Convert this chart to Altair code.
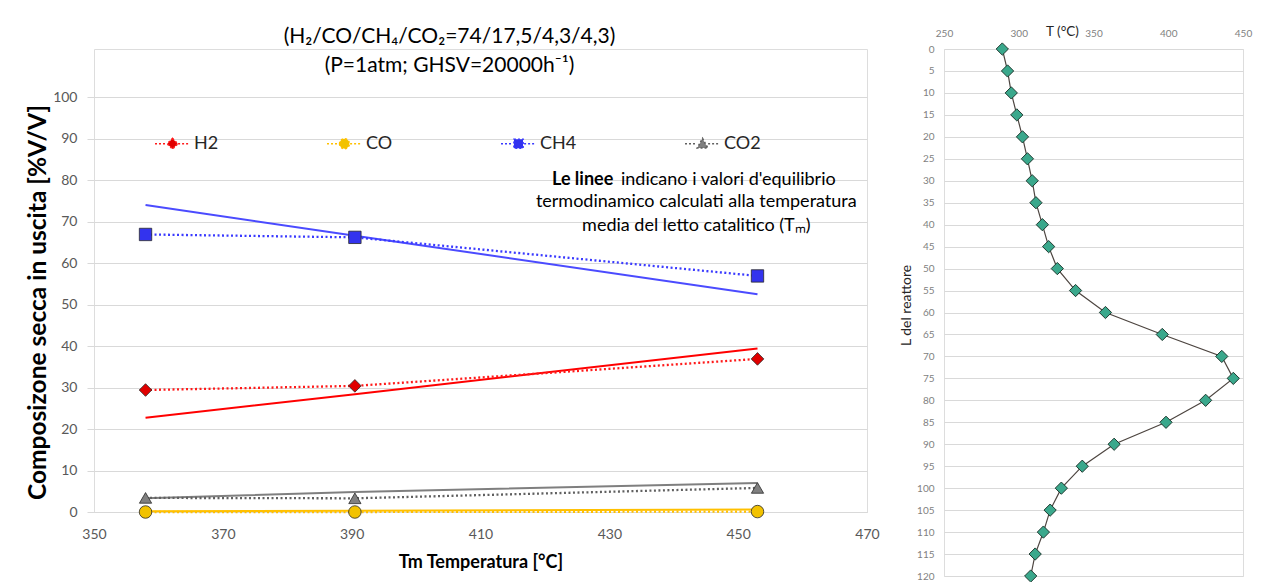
import altair as alt
import pandas as pd

# ---------------- data: left panel ----------------
SPECIES = ["H2", "CO", "CH4", "CO2"]
T_M = [358.0, 390.5, 453.0]

H2_EXP = [29.4, 30.4, 36.9]
CO_EXP = [0.0, 0.0, 0.1]
CH4_EXP = [66.9, 66.2, 56.9]
CO2_EXP = [3.4, 3.3, 5.8]

H2_EQ = [22.7, 28.4, 39.4]
CO_EQ = [0.2, 0.3, 0.6]
CH4_EQ = [74.0, 66.6, 52.5]
CO2_EQ = [3.3, 4.8, 7.0]

X_TICKS = [350, 370, 390, 410, 430, 450, 470]
Y_TICKS = [0, 10, 20, 30, 40, 50, 60, 70, 80, 90, 100]
# the plot area reaches above the 100 line, where the title sits (as in the original)
Y_DOMAIN = [0, 111.6]

NOTE_T = [421.1, 443.5, 443.5]
NOTE_V = [80.0, 74.7, 68.9]
NOTE_TXT = ["Le linee", "termodinamico  calculati alla temperatura", "media del letto catalitico (Tₘ)"]
NOTE_REST = "indicano i valori d'equilibrio"

# ---------------- data: right panel ----------------
L_POS = [0, 5, 10, 15, 20, 25, 30, 35, 40, 45, 50, 55, 60, 65, 70, 75, 80, 85, 90, 95, 100, 105, 110, 115, 120]
T_PROFILE = [289.0, 292.5, 295.0, 298.7, 302.5, 305.8, 309.0, 311.5, 315.8, 320.0, 325.8, 338.0, 358.0,
             396.0, 435.8, 443.5, 425.0, 398.5, 363.8, 342.5, 328.5, 321.0, 316.5, 311.0, 308.0]
T_TICKS = [250, 300, 350, 400, 450]
L_TICKS = list(range(0, 121, 5))

# ---------------- styling ----------------
FONT = "Lato"
EQ_COLORS = ["#ff0000", "#ffc000", "#4b4bff", "#7f7f7f"]
DOT_COLORS = ["#ff1a1a", "#ffc000", "#3a3aff", "#606060"]
FILL_COLORS = ["#e00000", "#f2c200", "#3333ee", "#808080"]
MARK_SHAPES = ["diamond", "circle", "square", "triangle-up"]
MARK_SIZES = [160, 150, 200, 150]
LEG_PATHS = [
    "M-1,0L-0.32,0M0.32,0L1,0M0,-0.3L0.3,0L0,0.3L-0.3,0Z",
    "M-1,0L-0.32,0M0.32,0L1,0M-0.28,0A0.28,0.28 0 1,0 0.28,0A0.28,0.28 0 1,0 -0.28,0Z",
    "M-1,0L-0.32,0M0.32,0L1,0M-0.26,-0.26L0.26,-0.26L0.26,0.26L-0.26,0.26Z",
    "M-1,0L-0.32,0M0.32,0L1,0M0,-0.3L0.3,0.24L-0.3,0.24Z",
]

exp_vals = {"H2": H2_EXP, "CO": CO_EXP, "CH4": CH4_EXP, "CO2": CO2_EXP}
eq_vals = {"H2": H2_EQ, "CO": CO_EQ, "CH4": CH4_EQ, "CO2": CO2_EQ}

df_exp = pd.DataFrame([{"T": t, "v": v, "s": s} for s in SPECIES for t, v in zip(T_M, exp_vals[s])])
df_eq = pd.DataFrame([{"T": t, "v": v, "s": s} for s in SPECIES for t, v in zip(T_M, eq_vals[s])])
df_note = pd.DataFrame({"T": NOTE_T, "v": NOTE_V, "txt": NOTE_TXT})
df_note_rest = pd.DataFrame({"T": [NOTE_T[0]], "v": [NOTE_V[0]], "txt": [NOTE_REST]})

X = alt.X("T:Q", scale=alt.Scale(domain=[350, 470], nice=False),
          axis=alt.Axis(values=X_TICKS, grid=False, ticks=False, domain=True, domainColor="#d9d9d9",
                        labelFontSize=14, labelColor="#595959", labelPadding=15, labelFont=FONT,
                        labelFlush=False,
                        title="Tm Temperatura [°C]", titleFontSize=18, titleFontWeight="bold",
                        titleFont=FONT, titleColor="#000000", titlePadding=12))
Y = alt.Y("v:Q", scale=alt.Scale(domain=Y_DOMAIN, nice=False, zero=True),
          axis=alt.Axis(values=Y_TICKS, grid=True, gridColor="#d9d9d9", ticks=True, tickSize=7,
                        tickColor="#d9d9d9", domain=False,
                        labelFontSize=14, labelColor="#595959", labelPadding=10, labelFont=FONT,
                        labelFlush=False,
                        title="Composizone secca in uscita [%V/V]", titleFontSize=24.5,
                        titleFontWeight="bold", titleFont=FONT, titleColor="#000000", titlePadding=2,
                        titleY=253))

eq_lines = alt.Chart(df_eq).mark_line(strokeWidth=2).encode(
    x=X, y=Y, color=alt.Color("s:N", scale=alt.Scale(domain=SPECIES, range=EQ_COLORS), legend=None))

dot_lines = alt.Chart(df_exp).mark_line(strokeWidth=2.3, strokeDash=[2, 2.5]).encode(
    x=X, y=Y, color=alt.Color("s:N", scale=alt.Scale(domain=SPECIES, range=DOT_COLORS), legend=None))

markers = alt.Chart(df_exp).mark_point(filled=True, stroke="#2a2a2a", strokeWidth=0.8, opacity=1).encode(
    x=X, y=Y,
    fill=alt.Fill("s:N", scale=alt.Scale(domain=SPECIES, range=FILL_COLORS), legend=None),
    shape=alt.Shape("s:N", scale=alt.Scale(domain=SPECIES, range=MARK_SHAPES), legend=None),
    size=alt.Size("s:N", scale=alt.Scale(domain=SPECIES, range=MARK_SIZES), legend=None),
)

leg = alt.Legend(orient="none", legendX=60, legendY=76, direction="horizontal", columns=4,
                 title=None, symbolSize=1225, symbolStrokeWidth=1.6, symbolDash=[2, 2],
                 symbolOpacity=1, labelFontSize=18, labelFont=FONT, labelColor="#262626",
                 labelOffset=3, columnPadding=104, padding=0)
legend_layer = alt.Chart(df_exp).mark_point(opacity=0, filled=True).encode(
    x=X, y=Y,
    fill=alt.Fill("s:N", scale=alt.Scale(domain=SPECIES, range=FILL_COLORS), legend=leg),
    stroke=alt.Stroke("s:N", scale=alt.Scale(domain=SPECIES, range=DOT_COLORS), legend=leg),
    shape=alt.Shape("s:N", scale=alt.Scale(domain=SPECIES, range=LEG_PATHS), legend=leg),
)

note_bold = alt.Chart(df_note.iloc[:1]).mark_text(
    align="left", baseline="middle", font=FONT, fontSize=18, fontWeight="bold", color="#000000").encode(
    x=X, y=Y, text="txt:N")
note_rest = alt.Chart(df_note_rest).mark_text(
    align="left", baseline="middle", font=FONT, fontSize=18, color="#000000", dx=69).encode(
    x=X, y=Y, text="txt:N")
note_lines = alt.Chart(df_note.iloc[1:]).mark_text(
    align="center", baseline="middle", font=FONT, fontSize=18, color="#000000").encode(
    x=X, y=Y, text="txt:N")

left = alt.layer(eq_lines, dot_lines, markers, legend_layer, note_bold, note_rest, note_lines).resolve_scale(
    color="independent", shape="independent", fill="independent", stroke="independent", size="independent"
).properties(
    width=773, height=463,
    title=alt.Title(["(H₂/CO/CH₄/CO₂=74/17,5/4,3/4,3)", "(P=1atm; GHSV=20000h⁻¹)"],
                    fontSize=21, fontWeight="normal", font=FONT, color="#000000",
                    lineHeight=29, offset=-27, dx=-31, anchor="middle"),
)

# ---------------- right panel ----------------
df_prof = pd.DataFrame({"L": L_POS, "T": T_PROFILE})
XR = alt.X("T:Q", scale=alt.Scale(domain=[250, 450], nice=False),
           axis=alt.Axis(orient="top", values=T_TICKS, grid=False, ticks=False, domain=False,
                         labelFontSize=10, labelColor="#7f7f7f", labelPadding=11, labelFont=FONT,
                         labelFlush=False,
                         title="T (°C)", titleFontSize=13.5, titleFontWeight="normal", titleFont=FONT,
                         titleColor="#262626", titleX=118, titleY=-18, titleBaseline="middle",
                         titleAlign="center"))
YR = alt.Y("L:Q", scale=alt.Scale(domain=[0, 120], reverse=True, nice=False),
           axis=alt.Axis(values=L_TICKS, grid=True, gridColor="#d9d9d9", ticks=False, domain=False,
                         labelFontSize=10, labelColor="#7f7f7f", labelPadding=10, labelFont=FONT,
                         labelFlush=False,
                         title="L del reattore", titleFontSize=14, titleFontWeight="normal",
                         titleFont=FONT, titleColor="#262626", titlePadding=3, titleY=256))

prof_line = alt.Chart(df_prof).mark_line(color="#4d4540", strokeWidth=1.2).encode(
    x=XR, y=YR, order="L:Q")
prof_pts = alt.Chart(df_prof).mark_point(shape="diamond", filled=True, fill="#3aa88c", stroke="#1f3a30",
                                         strokeWidth=1, size=150, opacity=1).encode(x=XR, y=YR)
right = alt.layer(prof_line, prof_pts).properties(width=299, height=527)

chart = alt.hconcat(left, right, spacing=19).properties(
    padding={"left": 17, "top": 15, "right": 5, "bottom": 5}
).configure_view(stroke=None).configure(font=FONT)

chart.save("out.html", embed_options={"renderer": "svg", "actions": False})
